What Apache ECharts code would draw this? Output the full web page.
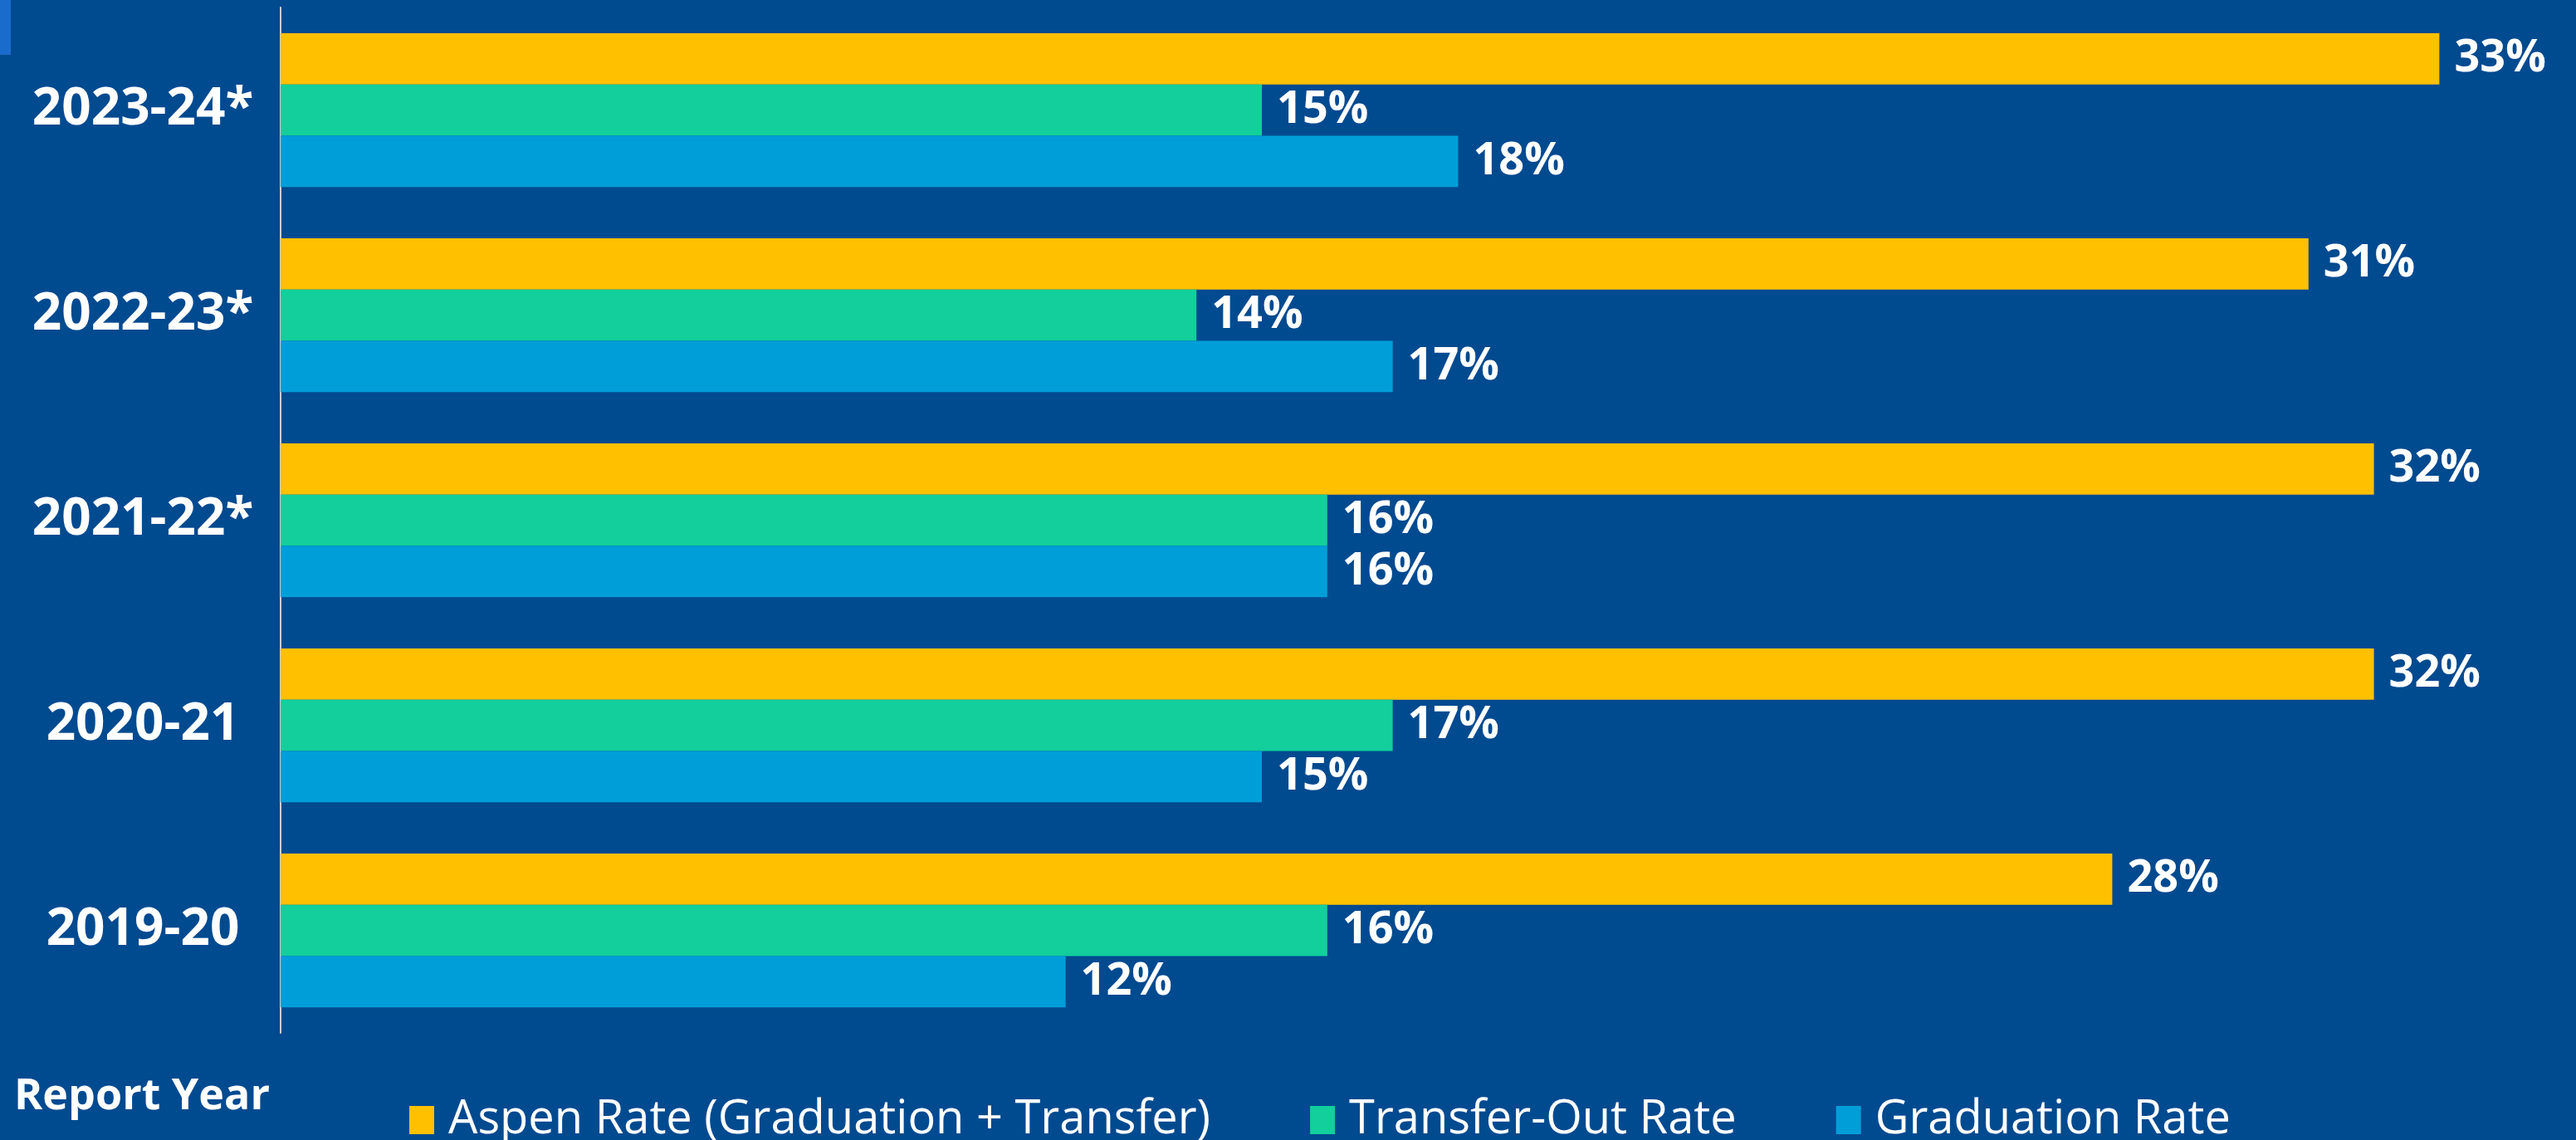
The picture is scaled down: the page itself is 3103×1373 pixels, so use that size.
<!DOCTYPE html>
<html>
<head>
<meta charset="utf-8">
<script src="https://cdn.jsdelivr.net/npm/echarts@6/dist/echarts.min.js"></script>
<style>
  html, body { margin: 0; padding: 0; background: #004a90; }
  #chart { width: 3103px; height: 1373px; }
</style>
</head>
<body>
<div id="chart"></div>
<script>
// report years, top to bottom
var years = ['2023-24*', '2022-23*', '2021-22*', '2020-21', '2019-20'];
var seriesNames = ['Aspen Rate (Graduation + Transfer)', 'Transfer-Out Rate', 'Graduation Rate'];
var aspenRate = [33, 31, 32, 32, 28];
var transferRate = [15, 14, 16, 17, 16];
var graduationRate = [18, 17, 16, 15, 12];
var colors = ['#ffc000', '#12cf9c', '#009ed9'];

var font = '"Open Sans", "Noto Sans", sans-serif';

function barSeries(name, data, color) {
  return {
    name: name,
    type: 'bar',
    data: data,
    barGap: '0%',
    barCategoryGap: '25%',
    itemStyle: { color: color },
    label: {
      show: true,
      position: 'right',
      distance: 18,
      formatter: '{c}%',
      color: '#ffffff',
      fontFamily: font,
      fontWeight: 'bold',
      fontSize: 54
    }
  };
}

var chart = echarts.init(document.getElementById('chart'));
chart.setOption({
  backgroundColor: '#004a90',
  animation: false,
  color: colors,
  title: {
    text: 'Report Year',
    left: 12,
    top: 1290,
    textStyle: { color: '#ffffff', fontFamily: font, fontWeight: 'bold', fontSize: 52 }
  },
  graphic: [
    { type: 'rect', left: 0, top: 0, shape: { width: 13, height: 66 }, style: { fill: '#1a6ccc' } }
  ],
  legend: {
    data: seriesNames,
    left: 488,
    top: 1316,
    icon: 'rect',
    itemWidth: 30,
    itemHeight: 34,
    itemGap: 120,
    textStyle: { color: '#ffffff', fontFamily: font, fontSize: 56, padding: [0, 0, 0, 12] }
  },
  grid: { left: 338, right: 7, top: 9, bottom: 129, containLabel: false },
  xAxis: {
    type: 'value',
    min: 0,
    max: 35,
    show: false
  },
  yAxis: {
    type: 'category',
    data: years,
    inverse: true,
    axisLine: { show: true, lineStyle: { color: '#c8ccd4', width: 2 } },
    axisTick: { show: false },
    axisLabel: {
      color: '#ffffff',
      fontFamily: font,
      fontWeight: 'bold',
      fontSize: 62,
      align: 'center',
      margin: 166
    }
  },
  series: [
    barSeries(seriesNames[0], aspenRate, colors[0]),
    barSeries(seriesNames[1], transferRate, colors[1]),
    barSeries(seriesNames[2], graduationRate, colors[2])
  ]
});
</script>
</body>
</html>
